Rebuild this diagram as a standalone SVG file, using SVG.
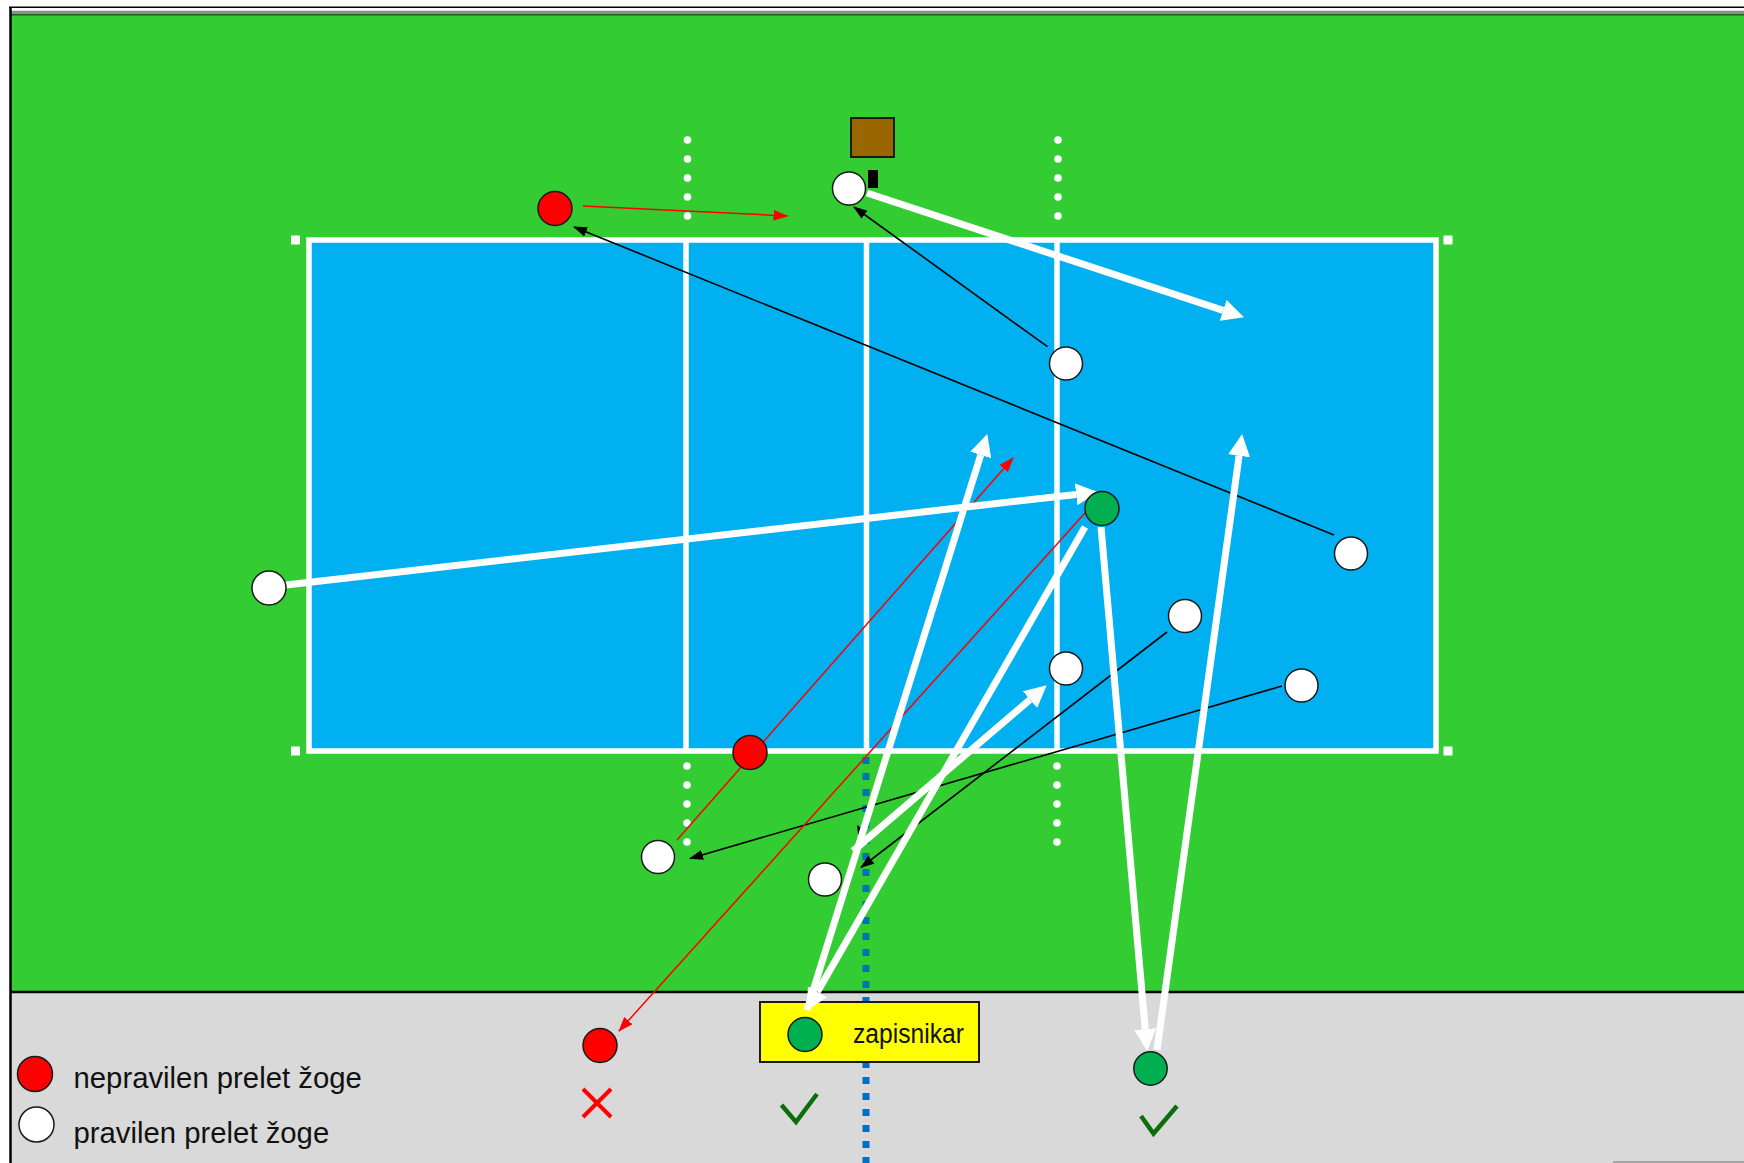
<svg xmlns="http://www.w3.org/2000/svg" width="1744" height="1163" viewBox="0 0 1744 1163">
<defs>
<style>
.pw{fill:#FFFFFF;stroke:#1a1a1a;stroke-width:1.5}
.pr{fill:#FF0000;stroke:#1a1a1a;stroke-width:1.5}
.pg{fill:#00B050;stroke:#1a1a1a;stroke-width:1.5}
.thinb{stroke:#000;stroke-width:1.6;fill:none;marker-end:url(#mb)}
.thinr{stroke:#FF0000;stroke-width:1.5;fill:none;marker-end:url(#mr)}
.thick{stroke:#FFFFFF;stroke-width:7;fill:none;marker-end:url(#mw)}
.dot{fill:#FFFFFF}
.cl{stroke:#FFFFFF;stroke-width:5.5;fill:none}
.lg{font-family:"Liberation Sans",Arial,sans-serif;font-size:29.3px;fill:#111}
</style>
<marker id="mb" viewBox="0 0 14 10" refX="13" refY="5" markerWidth="14" markerHeight="10" markerUnits="userSpaceOnUse" orient="auto"><path d="M0,0 L14,5 L0,10 z" fill="#000"/></marker>
<marker id="mr" viewBox="0 0 15 11" refX="14" refY="5.5" markerWidth="15" markerHeight="11" markerUnits="userSpaceOnUse" orient="auto"><path d="M0,0 L15,5.5 L0,11 z" fill="#FF0000"/></marker>
<marker id="mw" viewBox="0 0 22 22" refX="0" refY="11" markerWidth="22" markerHeight="22" markerUnits="userSpaceOnUse" orient="auto"><path d="M0,0 L22,11 L0,22 z" fill="#FFFFFF"/></marker>
</defs>

<g id="background">
<rect x="0" y="0" width="1744" height="1163" fill="#FFFFFF"/>
<rect x="11" y="14" width="1733" height="978" fill="#33CC33"/>
<rect x="11" y="992" width="1733" height="171" fill="#D9D9D9"/>
<line x1="9" y1="7.3" x2="1744" y2="7.3" stroke="#000" stroke-width="1.5"/>
<line x1="11" y1="12" x2="1744" y2="12" stroke="#8c8c8c" stroke-width="2.5"/>
<line x1="11" y1="14.5" x2="1744" y2="14.5" stroke="#1f5f1f" stroke-width="2"/>
<line x1="10.5" y1="7" x2="10.5" y2="1163" stroke="#000" stroke-width="2.5"/>
<line x1="11" y1="992" x2="1744" y2="992" stroke="#000" stroke-width="2.5"/>
<line x1="1613" y1="1162" x2="1744" y2="1162" stroke="#A6A6A6" stroke-width="2"/>
</g>

<g id="court">
<rect x="309" y="240" width="1127" height="511" fill="#00B0F0"/>
<rect class="cl" x="309" y="240" width="1127" height="511"/>
<line class="cl" x1="686" y1="240" x2="686" y2="751"/>
<line class="cl" x1="866.5" y1="240" x2="866.5" y2="751"/>
<line class="cl" x1="1057" y1="240" x2="1057" y2="751"/>
<rect class="dot" x="291" y="235.5" width="9" height="9"/>
<rect class="dot" x="1443.5" y="235.5" width="9" height="9"/>
<rect class="dot" x="291" y="746.5" width="9" height="9"/>
<rect class="dot" x="1443.5" y="746.5" width="9" height="9"/>
<g id="attack-dots">
<circle class="dot" cx="687.5" cy="140" r="3.8"/><circle class="dot" cx="687.5" cy="159" r="3.8"/><circle class="dot" cx="687.5" cy="178" r="3.8"/><circle class="dot" cx="687.5" cy="197" r="3.8"/><circle class="dot" cx="687.5" cy="216" r="3.8"/>
<circle class="dot" cx="1058" cy="140" r="3.8"/><circle class="dot" cx="1058" cy="159" r="3.8"/><circle class="dot" cx="1058" cy="178" r="3.8"/><circle class="dot" cx="1058" cy="197" r="3.8"/><circle class="dot" cx="1058" cy="216" r="3.8"/>
<circle class="dot" cx="687" cy="766" r="3.8"/><circle class="dot" cx="687" cy="785" r="3.8"/><circle class="dot" cx="687" cy="804" r="3.8"/><circle class="dot" cx="687" cy="823" r="3.8"/><circle class="dot" cx="687" cy="842" r="3.8"/>
<circle class="dot" cx="1057" cy="766" r="3.8"/><circle class="dot" cx="1057" cy="785" r="3.8"/><circle class="dot" cx="1057" cy="804" r="3.8"/><circle class="dot" cx="1057" cy="823" r="3.8"/><circle class="dot" cx="1057" cy="842" r="3.8"/>
</g>
</g>

<g id="referee">
<rect x="851" y="118" width="43" height="39" fill="#996600" stroke="#1a1a1a" stroke-width="2"/>
<rect x="868" y="170" width="10" height="18" fill="#000"/>
</g>

<line id="center-line" x1="866" y1="757" x2="866" y2="1163" stroke="#0070C0" stroke-width="7" stroke-dasharray="7 9"/>

<g id="scorer-box">
<rect x="760" y="1002" width="219" height="60" fill="#FFFF00" stroke="#1a1a1a" stroke-width="2"/>
<text x="853" y="1043" font-family="'Liberation Sans',Arial,sans-serif" font-size="27" fill="#111" textLength="111" lengthAdjust="spacingAndGlyphs">zapisnikar</text>
</g>

<g id="connectors">
<line class="thinr" x1="583" y1="206" x2="787.5" y2="216"/>
<line class="thinb" x1="1334" y1="535" x2="574" y2="227"/>
<line class="thinb" x1="1047.5" y1="346.7" x2="854" y2="207"/>
<line class="thinb" x1="1282" y1="686" x2="690" y2="858.5"/>
<line class="thinb" x1="1167" y1="632" x2="861" y2="867.5"/>
<path d="M857,825 L863,829 L859,843 z" fill="#000"/>
<line class="thinr" x1="677" y1="840" x2="1013" y2="458"/>
<line class="thinr" x1="1085" y1="513" x2="619" y2="1031"/>
<line class="thick" x1="867" y1="193" x2="1223.1" y2="310.4"/>
<line class="thick" x1="286" y1="585" x2="1076.1" y2="494.4"/>
<line class="thick" x1="807" y1="1010" x2="980.7" y2="455"/>
<line class="thick" x1="1085" y1="527" x2="817.5" y2="991.8"/>
<line class="thick" x1="853" y1="851" x2="1030" y2="699.6"/>
<line class="thick" x1="1101" y1="527" x2="1145.2" y2="1029.1"/>
<line class="thick" x1="1157" y1="1050" x2="1239.1" y2="455.8"/>
</g>

<g id="players">
<g id="p-red-top"><circle class="pr" cx="555" cy="208.5" r="17"/></g>
<g id="p-white-top"><circle class="pw" cx="849" cy="188.5" r="16.5"/></g>
<g id="p-white-1"><circle class="pw" cx="1066" cy="363.5" r="16.5"/></g>
<g id="p-white-left"><circle class="pw" cx="269" cy="588" r="17"/></g>
<g id="p-green-1"><circle class="pg" cx="1102" cy="508.5" r="17"/></g>
<g id="p-white-2"><circle class="pw" cx="1351" cy="553.5" r="16.5"/></g>
<g id="p-white-3"><circle class="pw" cx="1185" cy="616" r="16.5"/></g>
<g id="p-white-4"><circle class="pw" cx="1066" cy="668.5" r="16.5"/></g>
<g id="p-white-5"><circle class="pw" cx="1301.5" cy="685.5" r="16.5"/></g>
<g id="p-red-mid"><circle class="pr" cx="750" cy="752.5" r="17"/></g>
<g id="p-white-6"><circle class="pw" cx="658" cy="857" r="16.5"/></g>
<g id="p-white-7"><circle class="pw" cx="825" cy="879.5" r="16.5"/></g>
<g id="p-red-bottom"><circle class="pr" cx="600" cy="1045.5" r="17"/></g>
<g id="p-green-scorer"><circle class="pg" cx="805" cy="1034.5" r="17"/></g>
<g id="p-green-2"><circle class="pg" cx="1150.5" cy="1068.5" r="16.7"/></g>
</g>

<g id="marks">
<path d="M583,1089 L611,1117 M611,1089 L583,1117" stroke="#FF0000" stroke-width="4" fill="none"/>
<path d="M781.5,1105 L796,1122 L817,1094" stroke="#0A6E0A" stroke-width="4.5" fill="none"/>
<path d="M1141,1116 L1153.5,1133.5 L1177,1106" stroke="#0A6E0A" stroke-width="4.5" fill="none"/>
</g>

<g id="legend">
<circle class="pr" cx="35" cy="1074" r="17.5"/>
<text class="lg" x="73.5" y="1088">nepravilen prelet žoge</text>
<circle class="pw" cx="36.5" cy="1124.5" r="17.5"/>
<text class="lg" x="73.5" y="1143">pravilen prelet žoge</text>
</g>
</svg>
